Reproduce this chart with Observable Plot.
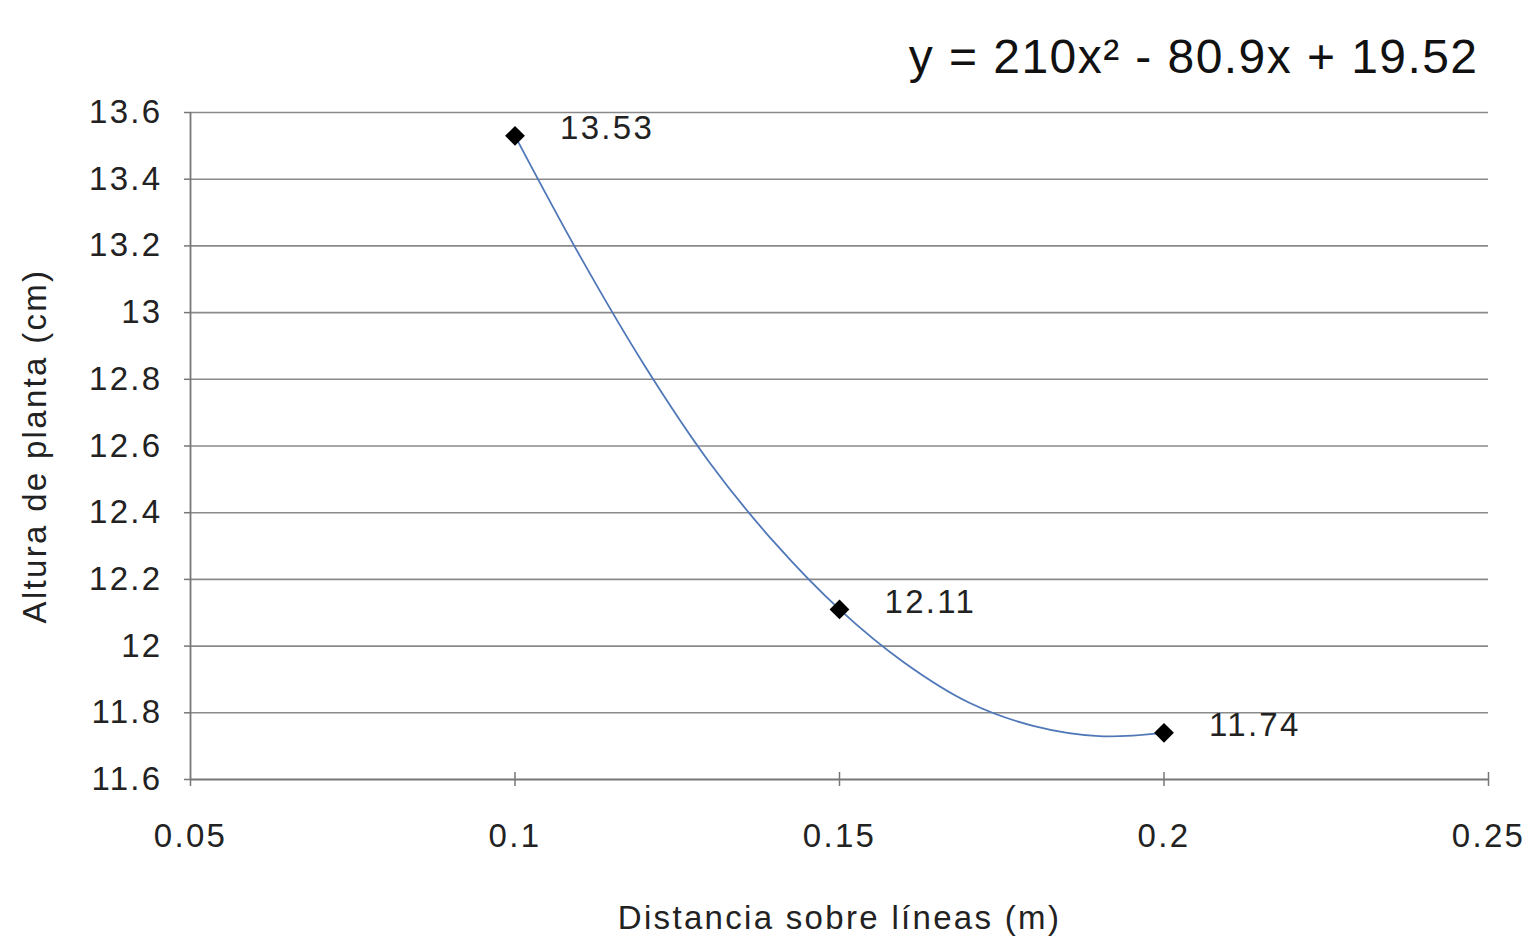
<!DOCTYPE html>
<html>
<head>
<meta charset="utf-8">
<script src="https://cdn.jsdelivr.net/npm/d3@7"></script>
<script src="https://cdn.jsdelivr.net/npm/@observablehq/plot@0.6"></script>
<style>
  html, body { margin: 0; padding: 0; background: #fff; }
  #chart svg { display: block; }
  #chart svg text { letter-spacing: 0.07em; }
  #chart svg g.eq text { letter-spacing: 0.03em; }
</style>
</head>
<body>
<div id="chart"></div>
<script>
// Measured points
const distancia = [0.1, 0.15, 0.2];
const altura = [13.53, 12.11, 11.74];
const etiquetas = ["13.53", "12.11", "11.74"];

// Trend line
const trendX = [0.1, 0.11, 0.12, 0.13, 0.14, 0.15, 0.16, 0.17, 0.18, 0.19, 0.2];
const trendY = [13.53, 13.17, 12.84, 12.55, 12.31, 12.11, 11.95, 11.83, 11.76, 11.73, 11.74];

const xTicks = [0.05, 0.1, 0.15, 0.2, 0.25];
const xTickLabels = ["0.05", "0.1", "0.15", "0.2", "0.25"];
const yTicks = [11.6, 11.8, 12, 12.2, 12.4, 12.6, 12.8, 13, 13.2, 13.4, 13.6];
const yTickLabels = ["11.6", "11.8", "12", "12.2", "12.4", "12.6", "12.8", "13", "13.2", "13.4", "13.6"];

const equation = "y = 210x² - 80.9x + 19.52";
const xTitle = "Distancia sobre líneas (m)";
const yTitle = "Altura de planta (cm)";

const points = distancia.map((x, i) => ({x, y: altura[i], label: etiquetas[i]}));
const trend = trendX.map((x, i) => ({x, y: trendY[i]}));

const W = 1530, H = 941;
const mL = 190, mR = 42, mT = 112, mB = 162;
const plotH = H - mT - mB;
const font = "'Liberation Sans', Arial, sans-serif";
const textColor = "#222";

const chart = Plot.plot({
  width: W,
  height: H,
  marginLeft: mL,
  marginRight: mR,
  marginTop: mT,
  marginBottom: mB,
  style: {fontFamily: font, background: "#fff", color: textColor},
  x: {domain: [0.05, 0.25]},
  y: {domain: [11.6, 13.6]},
  marks: [
    // horizontal gridlines
    Plot.ruleY(yTicks.slice(1), {stroke: "#8a8a8a", strokeWidth: 1.6}),
    // axes lines
    Plot.ruleY([11.6], {stroke: "#777", strokeWidth: 1.8}),
    Plot.ruleX([0.05], {stroke: "#777", strokeWidth: 1.8}),
    Plot.axisY({
      ticks: yTicks,
      tickFormat: (d) => yTickLabels[yTicks.indexOf(d)],
      tickSize: 6,
      tickPadding: 22,
      fontSize: 33,
      stroke: "#777",
      strokeWidth: 1.5,
      label: null
    }),
    Plot.axisX({
      ticks: xTicks,
      tickFormat: (d) => xTickLabels[xTicks.indexOf(d)],
      tickSize: 7,
      tickPadding: 37,
      fontSize: 33,
      stroke: "#777",
      strokeWidth: 1.5,
      label: null
    }),
    // inner part of the crossing x ticks
    Plot.tickX(xTicks.slice(1), {x: d => d, insetTop: plotH - 7, stroke: "#777", strokeWidth: 1.5}),
    // trend line
    Plot.line(trend, {x: "x", y: "y", curve: "catmull-rom", stroke: "#5078b8", strokeWidth: 1.8}),
    // markers
    Plot.dot(points, {x: "x", y: "y", symbol: "square", r: 7.9, rotate: 45, fill: "#000", stroke: "none"}),
    // data labels
    Plot.text(points, {x: "x", y: "y", text: "label", textAnchor: "start", dx: 45, dy: -7, fontSize: 33, fill: textColor}),
    // equation
    Plot.text([equation], {frameAnchor: "top-right", dx: -10, dy: -74, textAnchor: "end", fontSize: 48, fill: "#111", className: "eq"}),
    // axis titles
    Plot.text([xTitle], {frameAnchor: "bottom", dy: 149, fontSize: 33, fill: textColor}),
    Plot.text([yTitle], {frameAnchor: "left", dx: -155, rotate: -90, textAnchor: "middle", fontSize: 33, fill: textColor})
  ]
});

document.getElementById("chart").appendChild(chart);
</script>
</body>
</html>
